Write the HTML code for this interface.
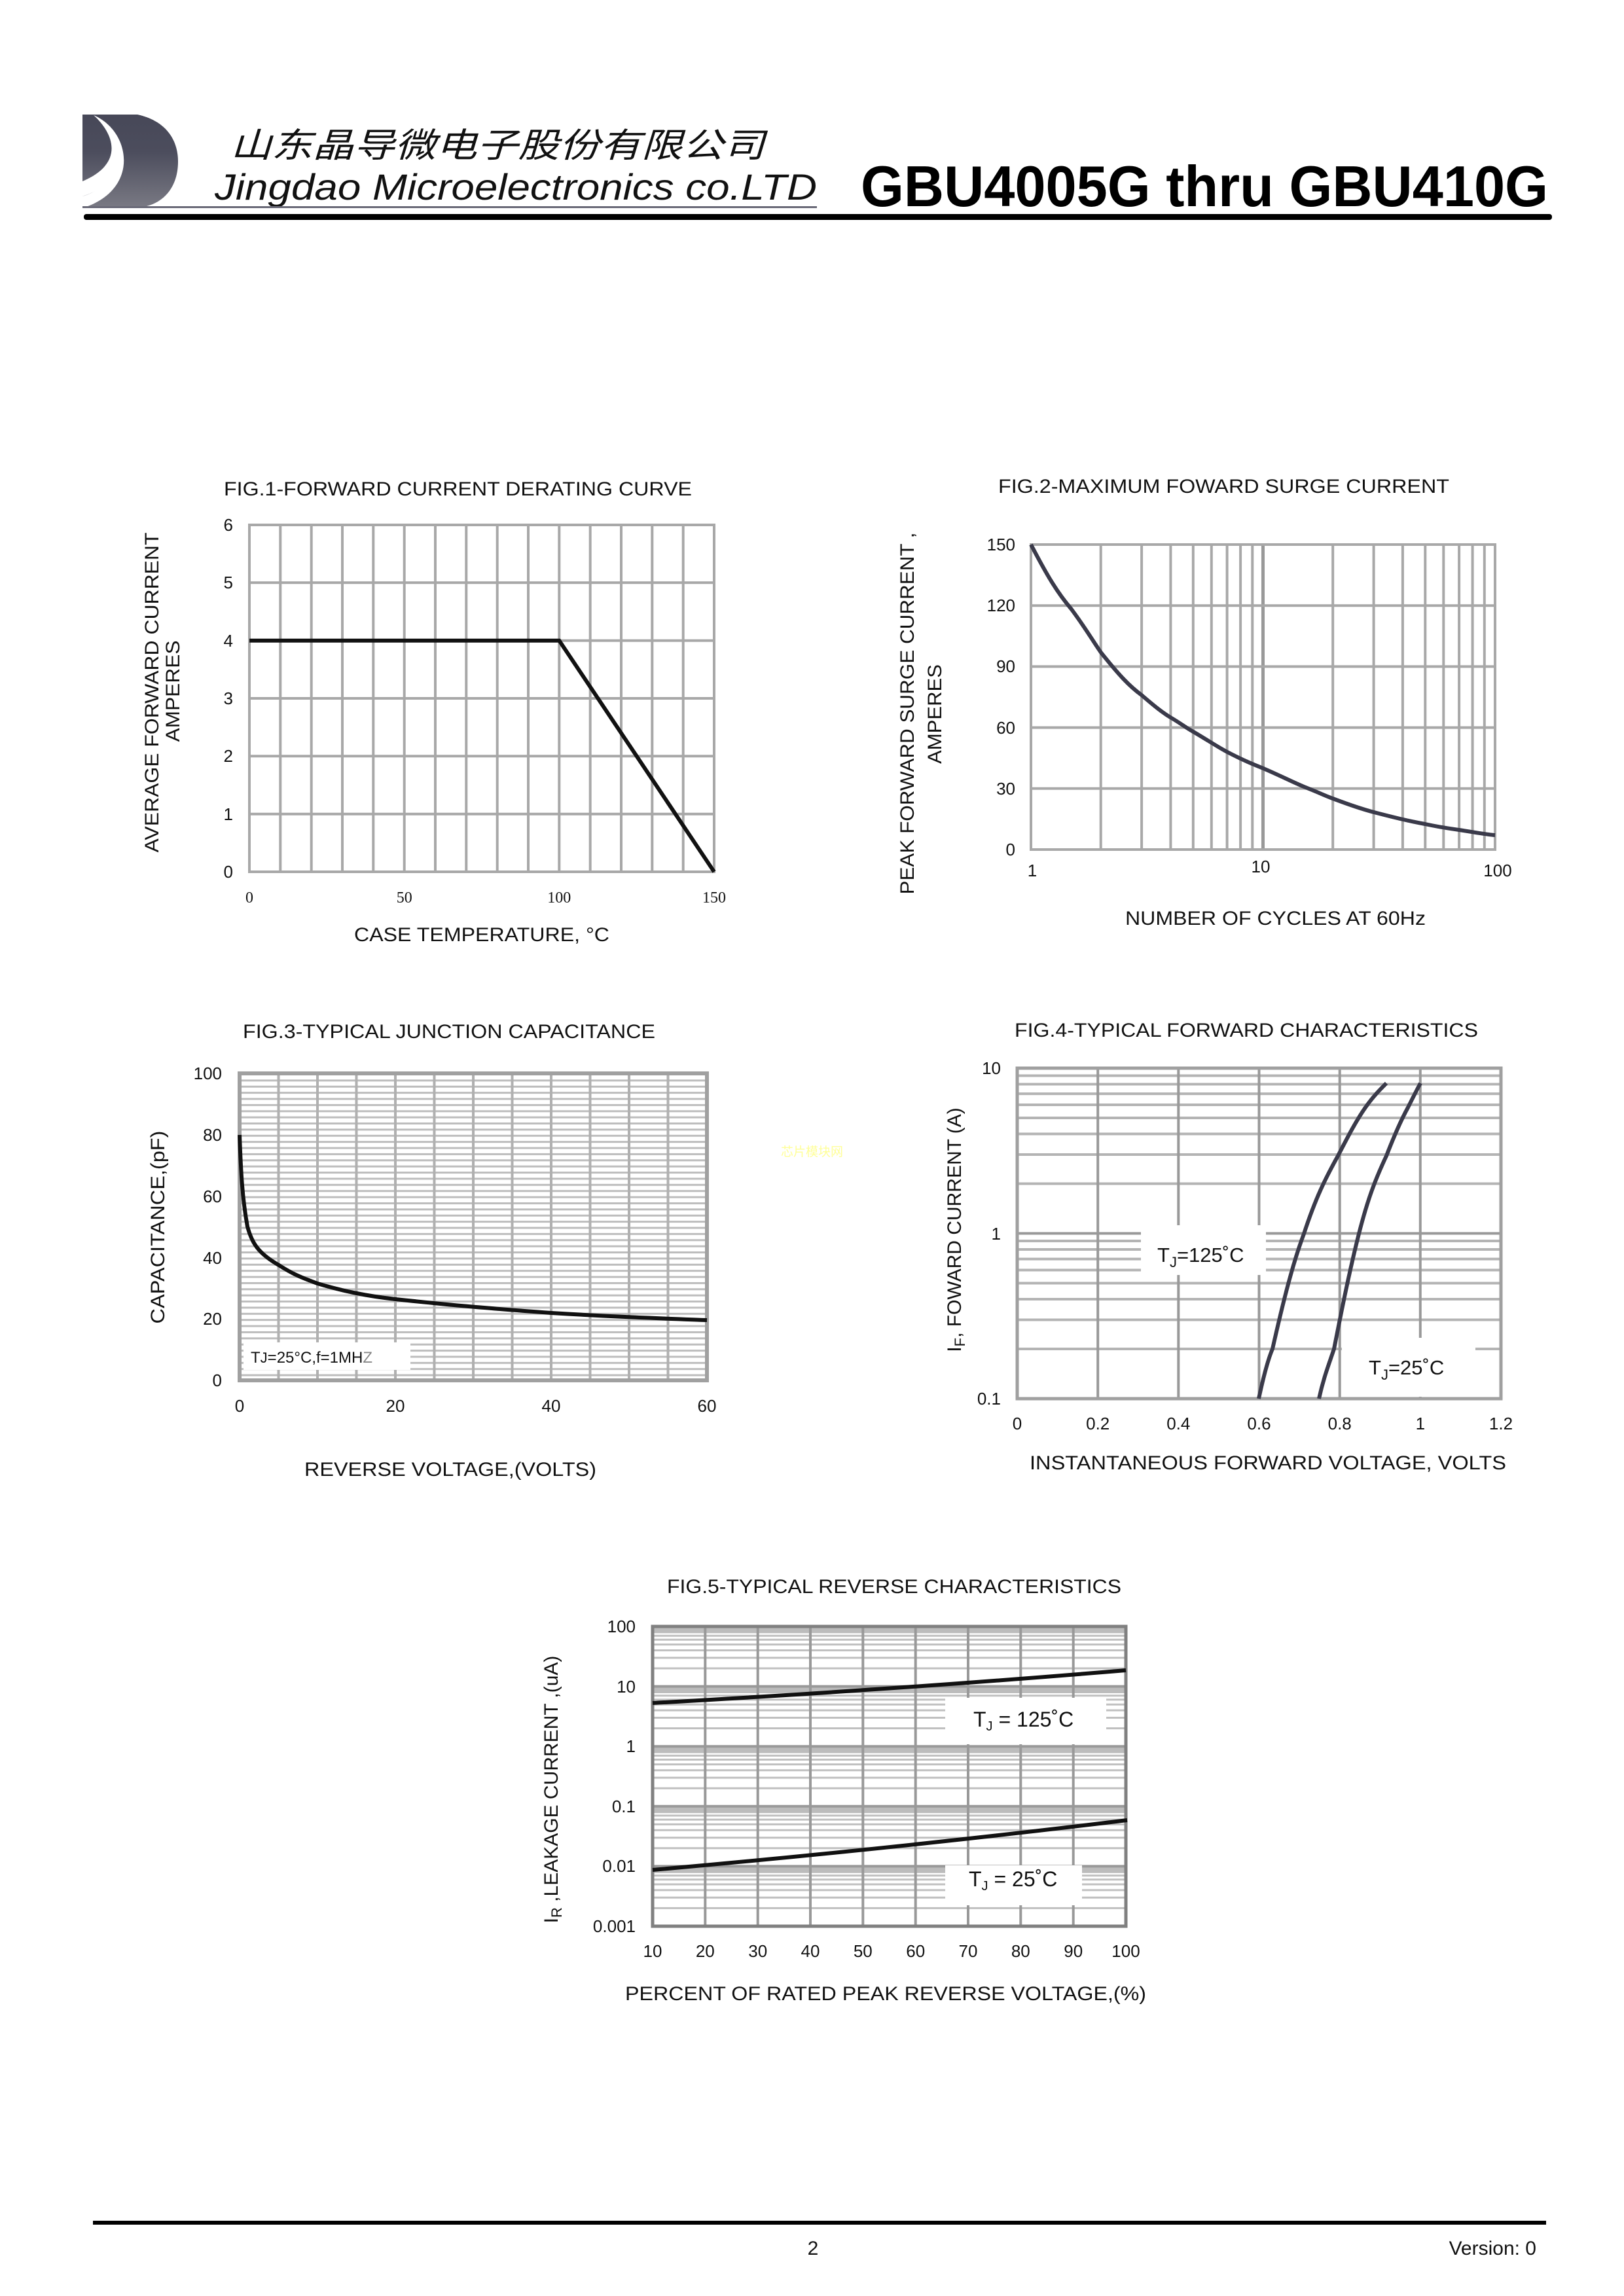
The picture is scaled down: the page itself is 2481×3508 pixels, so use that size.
<!DOCTYPE html>
<html><head><meta charset="utf-8"><style>
html,body{margin:0;padding:0;background:#fff}
svg{display:block}
text{font-family:"Liberation Sans","Noto Sans CJK SC",sans-serif;fill:#111}
</style></head><body>
<svg width="2481" height="3508" viewBox="0 0 2481 3508" xmlns="http://www.w3.org/2000/svg">
<defs>
<linearGradient id="lg" x1="0" y1="0" x2="0" y2="1"><stop offset="0" stop-color="#474858"/><stop offset="0.4" stop-color="#4c4d5d"/><stop offset="1" stop-color="#7a7a84"/></linearGradient>
<pattern id="p3" x="0" y="1640" width="20" height="9.38" patternUnits="userSpaceOnUse"><rect width="20" height="9.38" fill="#fff"/><rect y="0" width="20" height="3" fill="#bdbdbd"/></pattern>
<g id="d4"><line x1="1554" x2="2293" y1="-76" y2="-76"/><line x1="1554" x2="2293" y1="-120.5" y2="-120.5"/><line x1="1554" x2="2293" y1="-152" y2="-152"/><line x1="1554" x2="2293" y1="-176.5" y2="-176.5"/><line x1="1554" x2="2293" y1="-196.5" y2="-196.5"/><line x1="1554" x2="2293" y1="-213.4" y2="-213.4"/><line x1="1554" x2="2293" y1="-228" y2="-228"/><line x1="1554" x2="2293" y1="-241" y2="-241"/></g>
<g id="d5"><line x1="997" x2="1720" y1="-27.6" y2="-27.6"/><line x1="997" x2="1720" y1="-43.7" y2="-43.7"/><line x1="997" x2="1720" y1="-55.1" y2="-55.1"/><line x1="997" x2="1720" y1="-64" y2="-64"/><line x1="997" x2="1720" y1="-71.3" y2="-71.3"/><line x1="997" x2="1720" y1="-77.4" y2="-77.4"/><line x1="997" x2="1720" y1="-82.7" y2="-82.7"/><line x1="997" x2="1720" y1="-87.4" y2="-87.4"/><rect x="997" y="-91.6" width="723" height="10" fill="#bcbcbc" stroke="none"/></g>
</defs>

<!-- Header -->
<path d="M126 175 L210 175 C255 185 272 215 272 247 C272 285 250 318 200 318 L126 318 Z" fill="url(#lg)"/>
<path d="M143 176 C200 200 215 290 126 318 L126 300 C180 285 195 215 143 176 Z" fill="#fff"/>
<path d="M143 176 C175 205 190 250 126 277 L126 300 C190 280 200 215 143 176 Z" fill="#fff"/>
<text x="352" y="240" font-size="52" font-style="italic" textLength="816" lengthAdjust="spacingAndGlyphs" style="font-family:'Noto Sans CJK SC',sans-serif">山东晶导微电子股份有限公司</text>
<text x="328" y="305" font-size="56" font-style="italic" textLength="920" lengthAdjust="spacingAndGlyphs">Jingdao Microelectronics co.LTD</text>
<rect x="126" y="315" width="1122" height="3" fill="#6a6a78"/>
<text x="1315" y="315" font-size="88" font-weight="bold" textLength="1050" lengthAdjust="spacingAndGlyphs" style="fill:#000">GBU4005G thru GBU410G</text>
<rect x="128" y="327" width="2243" height="9" rx="4" fill="#000"/>

<!-- FIG 1 -->
<text x="342" y="757" font-size="30" textLength="715" lengthAdjust="spacingAndGlyphs">FIG.1-FORWARD CURRENT DERATING CURVE</text>
<g stroke="#a8a8a8" stroke-width="4">
<line x1="428.3" x2="428.3" y1="802" y2="1332"/><line x1="475.7" x2="475.7" y1="802" y2="1332"/><line x1="523" x2="523" y1="802" y2="1332"/><line x1="570.3" x2="570.3" y1="802" y2="1332"/><line x1="617.7" x2="617.7" y1="802" y2="1332"/><line x1="665" x2="665" y1="802" y2="1332"/><line x1="712.3" x2="712.3" y1="802" y2="1332"/><line x1="759.7" x2="759.7" y1="802" y2="1332"/><line x1="807" x2="807" y1="802" y2="1332"/><line x1="854.3" x2="854.3" y1="802" y2="1332"/><line x1="901.7" x2="901.7" y1="802" y2="1332"/><line x1="949" x2="949" y1="802" y2="1332"/><line x1="996.3" x2="996.3" y1="802" y2="1332"/><line x1="1043.7" x2="1043.7" y1="802" y2="1332"/>
<line x1="381" x2="1091" y1="890.3" y2="890.3"/><line x1="381" x2="1091" y1="978.7" y2="978.7"/><line x1="381" x2="1091" y1="1067" y2="1067"/><line x1="381" x2="1091" y1="1155.3" y2="1155.3"/><line x1="381" x2="1091" y1="1243.7" y2="1243.7"/>
<rect x="381" y="802" width="710" height="530" fill="none"/>
</g>
<polyline points="381,978.7 854.3,978.7 1091,1332" fill="none" stroke="#111" stroke-width="6"/>
<g font-size="26" text-anchor="end"><text x="356" y="811">6</text><text x="356" y="899">5</text><text x="356" y="988">4</text><text x="356" y="1076">3</text><text x="356" y="1164">2</text><text x="356" y="1253">1</text><text x="356" y="1341">0</text></g>
<g font-size="24" text-anchor="middle"><text x="381" y="1379" style="font-family:'Liberation Serif',serif">0</text><text x="617.7" y="1379" style="font-family:'Liberation Serif',serif">50</text><text x="854.3" y="1379" style="font-family:'Liberation Serif',serif">100</text><text x="1091" y="1379" style="font-family:'Liberation Serif',serif">150</text></g>
<text x="541" y="1438" font-size="30" textLength="390" lengthAdjust="spacingAndGlyphs">CASE TEMPERATURE, °C</text>
<text transform="translate(242,1058) rotate(-90)" text-anchor="middle" font-size="30" textLength="489" lengthAdjust="spacingAndGlyphs">AVERAGE FORWARD CURRENT</text>
<text transform="translate(274,1056) rotate(-90)" text-anchor="middle" font-size="30" textLength="155" lengthAdjust="spacingAndGlyphs">AMPERES</text>

<!-- FIG 2 -->
<text x="1525" y="753" font-size="30" textLength="689" lengthAdjust="spacingAndGlyphs">FIG.2-MAXIMUM FOWARD  SURGE CURRENT</text>
<g stroke="#a8a8a8" stroke-width="4">
<line x1="1681.7" x2="1681.7" y1="832" y2="1298"/><line x1="1744.1" x2="1744.1" y1="832" y2="1298"/><line x1="1788.4" x2="1788.4" y1="832" y2="1298"/><line x1="1822.8" x2="1822.8" y1="832" y2="1298"/><line x1="1850.8" x2="1850.8" y1="832" y2="1298"/><line x1="1874.6" x2="1874.6" y1="832" y2="1298"/><line x1="1895.1" x2="1895.1" y1="832" y2="1298"/><line x1="1913.3" x2="1913.3" y1="832" y2="1298"/><line x1="1929.5" x2="1929.5" y1="832" y2="1298" stroke="#999" stroke-width="5"/>
<line x1="2036.2" x2="2036.2" y1="832" y2="1298"/><line x1="2098.6" x2="2098.6" y1="832" y2="1298"/><line x1="2142.9" x2="2142.9" y1="832" y2="1298"/><line x1="2177.3" x2="2177.3" y1="832" y2="1298"/><line x1="2205.3" x2="2205.3" y1="832" y2="1298"/><line x1="2229.1" x2="2229.1" y1="832" y2="1298"/><line x1="2249.6" x2="2249.6" y1="832" y2="1298"/><line x1="2267.8" x2="2267.8" y1="832" y2="1298"/>
<line x1="1575" x2="2284" y1="925.2" y2="925.2"/><line x1="1575" x2="2284" y1="1018.4" y2="1018.4"/><line x1="1575" x2="2284" y1="1111.6" y2="1111.6"/><line x1="1575" x2="2284" y1="1204.8" y2="1204.8"/>
<rect x="1575" y="832" width="709" height="466" fill="none"/>
</g>
<path d="M1575 832 C1600 880 1615 905 1637 931 C1660 962 1670 980 1682 997 C1710 1032 1725 1048 1744 1062 C1765 1080 1775 1088 1788 1096 C1805 1106 1812 1112 1823 1118 C1850 1134 1860 1141 1875 1149 C1900 1162 1915 1168 1930 1174 C1960 1187 1975 1195 1992 1202 C2015 1211 2025 1216 2036 1220 C2065 1231 2080 1236 2099 1241 C2130 1249 2150 1254 2177 1259 C2200 1264 2215 1266 2229 1268 C2255 1272 2270 1275 2284 1276" fill="none" stroke="#3a3a4a" stroke-width="6"/>
<g font-size="26" text-anchor="end"><text x="1551" y="841">150</text><text x="1551" y="934">120</text><text x="1551" y="1027">90</text><text x="1551" y="1121">60</text><text x="1551" y="1214">30</text><text x="1551" y="1307">0</text></g>
<g font-size="26" text-anchor="middle"><text x="1577" y="1339">1</text><text x="1926" y="1333">10</text><text x="2288" y="1339">100</text></g>
<text x="1719" y="1413" font-size="30" textLength="459" lengthAdjust="spacingAndGlyphs">NUMBER OF CYCLES AT 60Hz</text>
<text transform="translate(1396,1090) rotate(-90)" text-anchor="middle" font-size="30" textLength="553" lengthAdjust="spacingAndGlyphs">PEAK FORWARD SURGE CURRENT ,</text>
<text transform="translate(1438,1091) rotate(-90)" text-anchor="middle" font-size="30" textLength="152" lengthAdjust="spacingAndGlyphs">AMPERES</text>

<!-- FIG 3 -->
<text x="371" y="1586" font-size="30" textLength="630" lengthAdjust="spacingAndGlyphs">FIG.3-TYPICAL JUNCTION CAPACITANCE</text>
<rect x="366" y="1640" width="714" height="469" fill="url(#p3)"/>
<g stroke="#b0b0b0" stroke-width="4">
<line x1="425.5" x2="425.5" y1="1640" y2="2109"/><line x1="485" x2="485" y1="1640" y2="2109"/><line x1="544.5" x2="544.5" y1="1640" y2="2109"/><line x1="604" x2="604" y1="1640" y2="2109"/><line x1="663.5" x2="663.5" y1="1640" y2="2109"/><line x1="723" x2="723" y1="1640" y2="2109"/><line x1="782.5" x2="782.5" y1="1640" y2="2109"/><line x1="842" x2="842" y1="1640" y2="2109"/><line x1="901.5" x2="901.5" y1="1640" y2="2109"/><line x1="961" x2="961" y1="1640" y2="2109"/><line x1="1020.5" x2="1020.5" y1="1640" y2="2109"/>
</g>
<rect x="366" y="1640" width="714" height="469" fill="none" stroke="#a0a0a0" stroke-width="6"/>
<rect x="372" y="2051" width="255" height="42" fill="#fff"/>
<text x="383" y="2082" font-size="24">T<tspan font-size="22">J</tspan>=25°C,f=1MH<tspan fill="#888">Z</tspan></text>
<path d="M366 1734 C368 1790 370 1830 378 1874 C385 1900 395 1915 426 1933 C445 1945 455 1950 485 1961 C525 1973 560 1980 604 1985 C680 1993 720 1997 842 2006 C940 2012 1000 2014 1080 2017" fill="none" stroke="#111" stroke-width="6"/>
<g font-size="26" text-anchor="end"><text x="339" y="1649">100</text><text x="339" y="1743">80</text><text x="339" y="1837">60</text><text x="339" y="1931">40</text><text x="339" y="2024">20</text><text x="339" y="2118">0</text></g>
<g font-size="26" text-anchor="middle"><text x="366" y="2157">0</text><text x="604" y="2157">20</text><text x="842" y="2157">40</text><text x="1080" y="2157">60</text></g>
<text x="465" y="2255" font-size="30" textLength="446" lengthAdjust="spacingAndGlyphs">REVERSE VOLTAGE,(VOLTS)</text>
<text transform="translate(251,1875) rotate(-90)" text-anchor="middle" font-size="30" textLength="295" lengthAdjust="spacingAndGlyphs">CAPACITANCE,(pF)</text>

<text x="1193" y="1766" font-size="19" style="fill:#ffff99;font-family:'Noto Sans CJK SC',sans-serif">芯片模块网</text>

<!-- FIG 4 -->
<text x="1550" y="1584" font-size="30" textLength="708" lengthAdjust="spacingAndGlyphs">FIG.4-TYPICAL FORWARD CHARACTERISTICS</text>
<g stroke="#b4b4b4" stroke-width="4">
<use href="#d4" transform="translate(0,2137)"/><use href="#d4" transform="translate(0,1884.5)"/>
<line x1="1554" x2="2293" y1="1884.5" y2="1884.5" stroke="#999"/>
<line x1="1677.2" x2="1677.2" y1="1632" y2="2137" stroke="#999"/><line x1="1800.3" x2="1800.3" y1="1632" y2="2137" stroke="#999"/><line x1="1923.5" x2="1923.5" y1="1632" y2="2137" stroke="#999"/><line x1="2046.7" x2="2046.7" y1="1632" y2="2137" stroke="#999"/><line x1="2169.8" x2="2169.8" y1="1632" y2="2137" stroke="#999"/>
<rect x="1554" y="1632" width="739" height="505" fill="none" stroke="#a0a0a0" stroke-width="5"/>
</g>
<rect x="1743" y="1872" width="191" height="76" fill="#fff"/>
<rect x="2050" y="2044" width="204" height="90" fill="#fff"/>
<path d="M1923 2137 C1932 2095 1938 2075 1944 2061 C1960 1990 1975 1930 1992 1885 C2010 1830 2025 1800 2044 1766 C2060 1735 2072 1712 2086 1692 C2098 1675 2108 1665 2118 1655" fill="none" stroke="#3a3a4a" stroke-width="6"/>
<path d="M2015 2137 C2022 2105 2030 2085 2038 2061 C2050 2000 2062 1940 2076 1885 C2090 1830 2102 1800 2118 1766 C2130 1735 2140 1712 2151 1692 C2158 1678 2164 1666 2170 1655" fill="none" stroke="#3a3a4a" stroke-width="6"/>
<text x="1768" y="1928" font-size="31">T<tspan font-size="22" dy="8">J</tspan><tspan dy="-8">=125˚C</tspan></text>
<text x="2091" y="2100" font-size="31">T<tspan font-size="22" dy="8">J</tspan><tspan dy="-8">=25˚C</tspan></text>
<g font-size="26" text-anchor="end"><text x="1529" y="1641">10</text><text x="1529" y="1894">1</text><text x="1529" y="2146">0.1</text></g>
<g font-size="26" text-anchor="middle"><text x="1554" y="2184">0</text><text x="1677.2" y="2184">0.2</text><text x="1800.3" y="2184">0.4</text><text x="1923.5" y="2184">0.6</text><text x="2046.7" y="2184">0.8</text><text x="2169.8" y="2184">1</text><text x="2293" y="2184">1.2</text></g>
<text x="1573" y="2245" font-size="30" textLength="728" lengthAdjust="spacingAndGlyphs">INSTANTANEOUS FORWARD VOLTAGE, VOLTS</text>
<text transform="translate(1468,1879) rotate(-90)" text-anchor="middle" font-size="30">I<tspan font-size="22" dy="6">F</tspan><tspan dy="-6">, FOWARD CURRENT (A)</tspan></text>

<!-- FIG 5 -->
<text x="1019" y="2434" font-size="30" textLength="694" lengthAdjust="spacingAndGlyphs">FIG.5-TYPICAL REVERSE CHARACTERISTICS</text>
<g stroke="#c0c0c0" stroke-width="3">
<use href="#d5" transform="translate(0,2943)"/><use href="#d5" transform="translate(0,2851.4)"/><use href="#d5" transform="translate(0,2759.8)"/><use href="#d5" transform="translate(0,2668.2)"/><use href="#d5" transform="translate(0,2576.6)"/>
</g>
<g stroke="#999" stroke-width="4">
<line x1="997" x2="1720" y1="2851.4" y2="2851.4"/><line x1="997" x2="1720" y1="2759.8" y2="2759.8"/><line x1="997" x2="1720" y1="2668.2" y2="2668.2"/><line x1="997" x2="1720" y1="2576.6" y2="2576.6"/>
<line x1="1077.3" x2="1077.3" y1="2485" y2="2943"/><line x1="1157.7" x2="1157.7" y1="2485" y2="2943"/><line x1="1238" x2="1238" y1="2485" y2="2943"/><line x1="1318.3" x2="1318.3" y1="2485" y2="2943"/><line x1="1398.7" x2="1398.7" y1="2485" y2="2943"/><line x1="1479" x2="1479" y1="2485" y2="2943"/><line x1="1559.3" x2="1559.3" y1="2485" y2="2943"/><line x1="1639.7" x2="1639.7" y1="2485" y2="2943"/>
<rect x="997" y="2485" width="723" height="458" fill="none" stroke="#808080" stroke-width="5"/>
</g>
<rect x="1444" y="2594" width="246" height="71" fill="#fff"/>
<rect x="1444" y="2850" width="209" height="61" fill="#fff"/>
<path d="M997 2602 Q1360 2582 1720 2552" fill="none" stroke="#111" stroke-width="6"/>
<path d="M997 2857 Q1360 2825 1722 2781" fill="none" stroke="#111" stroke-width="6"/>
<text x="1487" y="2638" font-size="32">T<tspan font-size="20" dy="6">J</tspan><tspan dy="-6"> = 125˚C</tspan></text>
<text x="1480" y="2882" font-size="32">T<tspan font-size="20" dy="6">J</tspan><tspan dy="-6"> = 25˚C</tspan></text>
<g font-size="26" text-anchor="end"><text x="971" y="2494">100</text><text x="971" y="2586">10</text><text x="971" y="2677">1</text><text x="971" y="2769">0.1</text><text x="971" y="2860">0.01</text><text x="971" y="2952">0.001</text></g>
<g font-size="26" text-anchor="middle"><text x="997" y="2990">10</text><text x="1077.3" y="2990">20</text><text x="1157.7" y="2990">30</text><text x="1238" y="2990">40</text><text x="1318.3" y="2990">50</text><text x="1398.7" y="2990">60</text><text x="1479" y="2990">70</text><text x="1559.3" y="2990">80</text><text x="1639.7" y="2990">90</text><text x="1720" y="2990">100</text></g>
<text x="955" y="3056" font-size="30" textLength="796" lengthAdjust="spacingAndGlyphs">PERCENT OF RATED PEAK REVERSE VOLTAGE,(%)</text>
<text transform="translate(852,2734) rotate(-90)" text-anchor="middle" font-size="30">I<tspan font-size="22" dy="6">R</tspan><tspan dy="-6"> ,LEAKAGE  CURRENT ,(uA)</tspan></text>

<!-- Footer -->
<rect x="142" y="3393" width="2220" height="6" fill="#000"/>
<text x="1242" y="3445" font-size="30" text-anchor="middle">2</text>
<text x="2347" y="3445" font-size="30" text-anchor="end">Version: 0</text>
</svg>
</body></html>
